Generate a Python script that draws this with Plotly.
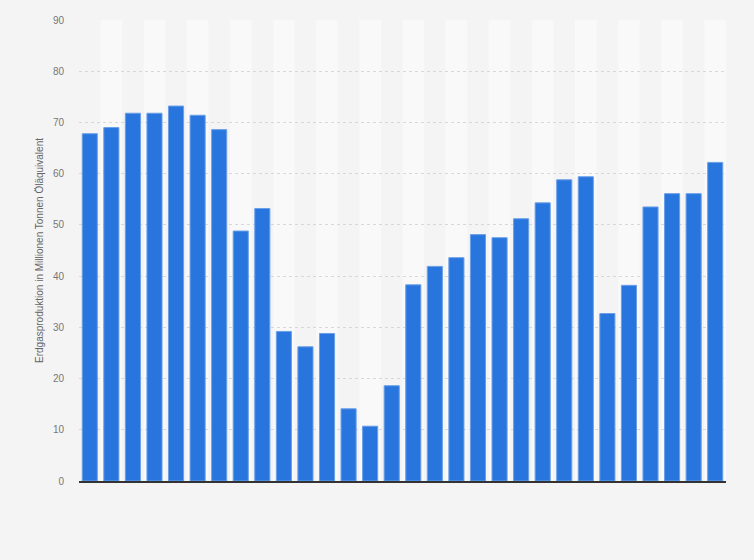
import plotly.graph_objects as go

years = [str(y) for y in range(1990, 2020)]
values = [67.8, 69.0, 71.8, 71.8, 73.2, 71.4, 68.6, 48.8, 53.2, 29.2,
          26.2, 28.8, 14.1, 10.7, 18.6, 38.3, 41.9, 43.6, 48.1, 47.5,
          51.2, 54.3, 58.8, 59.4, 32.7, 38.2, 53.5, 56.1, 56.1, 62.2]
y_ticks = [0, 10, 20, 30, 40, 50, 60, 70, 80, 90]
y_title = "Erdgasproduktion in Millionen Tonnen Öläquivalent"

fig = go.Figure()
fig.add_trace(go.Bar(
    x=years, y=values,
    marker=dict(color="#2876dd", line=dict(color="#6a9fe8", width=1)),
    hoverinfo="x+y",
))

shapes = []
for i in range(len(years)):
    if i % 2 == 1:
        shapes.append(dict(type="rect", xref="x", yref="paper",
                           x0=i - 0.5, x1=i + 0.5, y0=0, y1=1,
                           fillcolor="#f9f9f9", line=dict(width=0), layer="below"))

fig.update_layout(
    width=754, height=560,
    margin=dict(l=79, r=28, t=20, b=79),
    paper_bgcolor="#f4f4f4",
    plot_bgcolor="#f4f4f4",
    font=dict(family="Liberation Sans, Arial", size=10, color="#666666"),
    bargap=0.3,
    showlegend=False,
    shapes=shapes,
    xaxis=dict(showticklabels=False, showgrid=False, ticks="",
               showline=True, linecolor="#333333", linewidth=1.5,
               range=[-0.5, len(years) - 0.5]),
    yaxis=dict(range=[0, 90], tickvals=y_ticks, showgrid=True,
               gridcolor="#d8d8d8", griddash="dot", gridwidth=1,
               zeroline=False, ticks="", ticklabelstandoff=14,
               title=dict(text=y_title, font=dict(size=10, color="#666666"), standoff=7),
               tickfont=dict(size=10, color="#777777")),
)

fig.write_html("out.html", config={"displayModeBar": False})

with open("out.html", "r", encoding="utf-8") as f:
    html = f.read()
html = html.replace("<head>", "<head><style>html,body{margin:0;padding:0;background:#f4f4f4;}</style>", 1)
with open("out.html", "w", encoding="utf-8") as f:
    f.write(html)
